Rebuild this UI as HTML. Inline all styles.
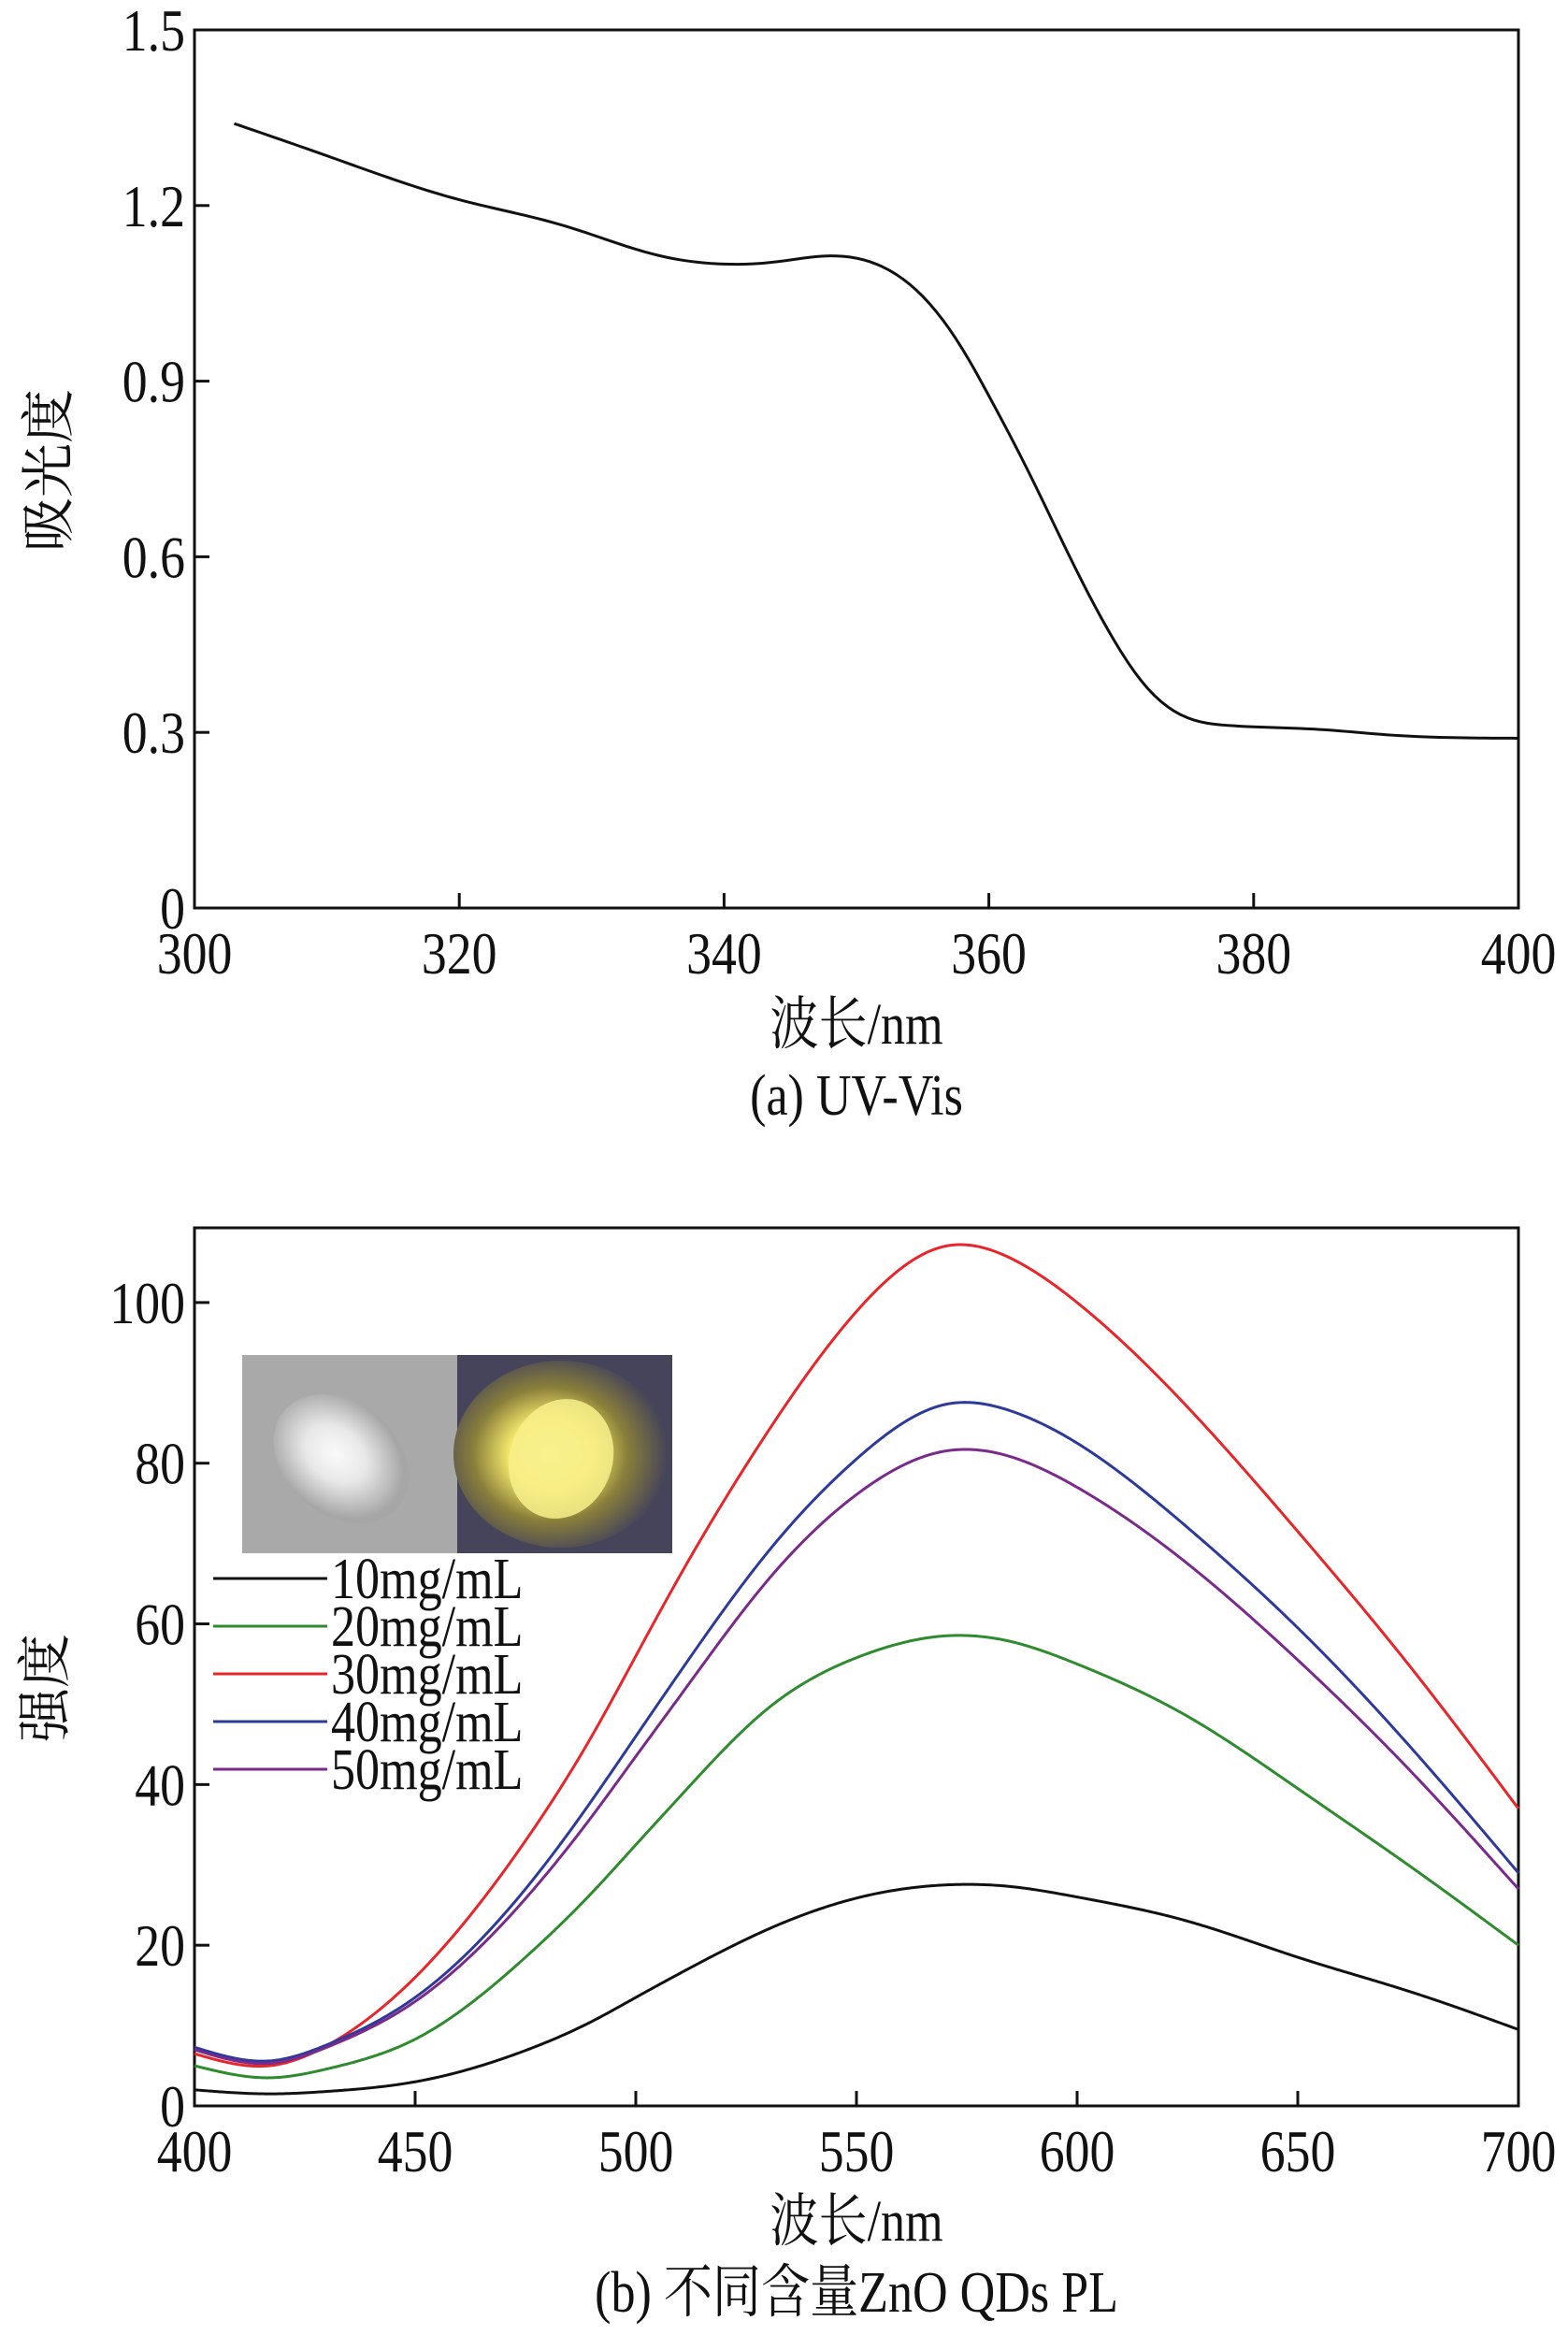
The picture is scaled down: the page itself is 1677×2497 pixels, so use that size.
<!DOCTYPE html>
<html><head><meta charset="utf-8"><style>
html,body{margin:0;padding:0;background:#fff}
svg{display:block}
text{font-family:"Liberation Serif","Noto Serif CJK SC",serif;fill:#111}
</style></head><body>
<svg id="fig" width="1677" height="2497" viewBox="0 0 1677 2497" xmlns="http://www.w3.org/2000/svg">
<defs>
<radialGradient id="gw" cx="0.45" cy="0.5" r="0.5"><stop offset="0" stop-color="#fafafa"/><stop offset="0.45" stop-color="#e8e8e8"/><stop offset="1" stop-color="#a6a6a6"/></radialGradient>
<radialGradient id="gy" cx="0.45" cy="0.5" r="0.55"><stop offset="0" stop-color="#fbf7a0"/><stop offset="0.35" stop-color="#f2e66a"/><stop offset="0.65" stop-color="#8a7f3a"/><stop offset="1" stop-color="#44435a"/></radialGradient>
</defs>
<g id="chartA"></g>
<g id="chartB"></g>
</svg>
<script>
// ---- Chart (a) data ----
const uvX = [303,310,320,328,335,340,344,348,352,355,358,360,363,366,369,372,375,378,385,390,400];
const uvY = [1.34,1.285,1.21,1.165,1.115,1.10,1.104,1.114,1.095,1.045,0.955,0.875,0.745,0.605,0.475,0.375,0.325,0.312,0.305,0.296,0.29];
const uvXTicks = [300,320,340,360,380,400];
const uvYTicks = [0,0.3,0.6,0.9,1.2,1.5];
const uvYLabels = ["0","0.3","0.6","0.9","1.2","1.5"];

// ---- Chart (b) data ----
const plX = [400,417,430,450,475,490,500,510,530,551,570,585,600,625,650,675,700];
const pl10 = [2,1.5,1.8,3,6.9,10.5,13.5,16.5,22,26,27.5,27.3,26,23,18.5,14.3,9.5];
const pl20 = [5,3.5,4.6,8.3,18.5,26.5,32.5,38.5,49.5,56,58.5,57.8,55,48.5,39.5,30,20];
const pl30 = [6.5,5,7.5,16,33,46,56,66,84,99.5,107,105.5,100,87,71.5,55,37];
const pl40 = [7.3,5.6,7.6,13.5,27,38,46,54,69,81,87.3,86.5,82.5,72,59.5,45,29];
const pl50 = [7,5.3,7.3,13,25.8,36,43.5,51,65.5,76.5,81.5,80.8,77,67.5,55.5,42,27];
const plSeries = [pl10,pl20,pl30,pl40,pl50];
const plNames = ["10mg/mL","20mg/mL","30mg/mL","40mg/mL","50mg/mL"];
const plColors = ["#111111","#2e8b2e","#e8262a","#2e3a9a","#7a2a8a"];
const plXTicks = [400,450,500,550,600,650,700];
const plYTicks = [0,20,40,60,80,100];

const NS="http://www.w3.org/2000/svg";
function mk(parent,tag,attrs,txt){const e=document.createElementNS(NS,tag);for(const k in attrs)e.setAttribute(k,attrs[k]);if(txt!==undefined)e.textContent=txt;parent.appendChild(e);return e;}
function ctext(parent,x,y,size,anchor,str){return mk(parent,'text',{x:0,y:0,'font-size':size,'text-anchor':anchor,transform:`translate(${x},${y}) scale(0.84,1)`},str);}
function splinePath(xs,ys,sx,sy){
  const n=xs.length,h=[],a=[],l=[1],mu=[0],z=[0],c=new Array(n).fill(0),b=[],d=[];
  for(let i=0;i<n-1;i++)h.push(xs[i+1]-xs[i]);
  for(let i=1;i<n-1;i++)a[i]=3/h[i]*(ys[i+1]-ys[i])-3/h[i-1]*(ys[i]-ys[i-1]);
  for(let i=1;i<n-1;i++){l[i]=2*(xs[i+1]-xs[i-1])-h[i-1]*mu[i-1];mu[i]=h[i]/l[i];z[i]=(a[i]-h[i-1]*z[i-1])/l[i];}
  for(let j=n-2;j>=0;j--){c[j]=(j>0?z[j]:0)-mu[j]*c[j+1];b[j]=(ys[j+1]-ys[j])/h[j]-h[j]*(c[j+1]+2*c[j])/3;d[j]=(c[j+1]-c[j])/(3*h[j]);}
  let s='';
  for(let j=0;j<n-1;j++){
    const steps=Math.max(4,Math.ceil(h[j]*2));
    for(let k=(j===0?0:1);k<=steps;k++){const t=h[j]*k/steps;const v=ys[j]+b[j]*t+c[j]*t*t+d[j]*t*t*t;s+=(s?' L':'M')+sx(xs[j]+t).toFixed(2)+','+sy(v).toFixed(2);}
  }
  return s;
}

function axes(g,L,R,T,B,xmin,xmax,ymin,ymax,xt,yt,yl,name){
  const sx=v=>L+(v-xmin)/(xmax-xmin)*(R-L), sy=v=>B-(v-ymin)/(ymax-ymin)*(B-T);
  const fr=mk(g,'rect',{x:L,y:T,width:R-L,height:B-T,fill:'none',stroke:'#111','stroke-width':3});
  
  
  xt.forEach(v=>{
    const t=mk(g,'line',{x1:sx(v),x2:sx(v),y1:B,y2:B-16,stroke:'#111','stroke-width':3});
    
    
    const l=ctext(g,sx(v),B+70,64,'middle',String(v));
    
    
  });
  yt.forEach((v,i)=>{
    const t=mk(g,'line',{x1:L,x2:L+16,y1:sy(v),y2:sy(v),stroke:'#111','stroke-width':3});
    
    
    const l=ctext(g,L-10,sy(v)+22,64,'end',yl?yl[i]:String(v));
    
    
  });
  return {sx,sy};
}

// Chart A
(function(){
  const g=document.getElementById('chartA');
  const {sx,sy}=axes(g,208,1624,32,971,300,400,0,1.5,uvXTicks,uvYTicks,uvYLabels,'uv');
  const p=mk(g,'path',{d:splinePath(uvX,uvY,sx,sy),fill:'none',stroke:'#111','stroke-width':3,'stroke-linejoin':'round'});
  
  
  const xt=ctext(g,916,1116,62,'middle','波长/nm');
  
  
  const c=ctext(g,916,1192,62,'middle','(a) UV-Vis');
  
  
  const yt=mk(g,'text',{x:0,y:0,'font-size':58,'text-anchor':'middle',transform:'translate(72,503) rotate(-90)'},'吸光度');
  
  
})();

// Chart B
(function(){
  const g=document.getElementById('chartB');
  const {sx,sy}=axes(g,208,1624,1313,2252,400,700,0,109.3,plXTicks,plYTicks,null,'pl');
  const ins=mk(g,'g',{});
  
  
  mk(ins,'rect',{x:259,y:1449,width:230,height:212,fill:'#a9a9a9'});
  mk(ins,'ellipse',{cx:365,cy:1560,rx:80,ry:60,fill:'url(#gw)',transform:'rotate(40 365 1560)'});
  mk(ins,'rect',{x:489,y:1449,width:230,height:212,fill:'#45445a'});
  mk(ins,'ellipse',{cx:600,cy:1555,rx:115,ry:100,fill:'url(#gy)'});
  mk(ins,'ellipse',{cx:600,cy:1560,rx:55,ry:65,fill:'#f7f08a',opacity:0.85,transform:'rotate(20 600 1560)'});
  plSeries.forEach((s,k)=>{
    const p=mk(g,'path',{d:splinePath(plX,s,sx,sy),fill:'none',stroke:plColors[k],'stroke-width':3,'stroke-linejoin':'round'});
    
    
  });
  plNames.forEach((n,k)=>{
    const y=1688+k*51;
    const e=mk(g,'g',{});
    
    
    mk(e,'line',{x1:228,x2:350,y1:y,y2:y,stroke:plColors[k],'stroke-width':3});
    ctext(e,354,y+21,62,'start',n);
  });
  const xt=ctext(g,916,2396,62,'middle','波长/nm');
  
  
  const c=ctext(g,916,2472,62,'middle','(b) 不同含量ZnO QDs PL');
  
  
  const yt=mk(g,'text',{x:0,y:0,'font-size':58,'text-anchor':'middle',transform:'translate(68,1805) rotate(-90)'},'强度');
  
  
})();
</script>
</body></html>
